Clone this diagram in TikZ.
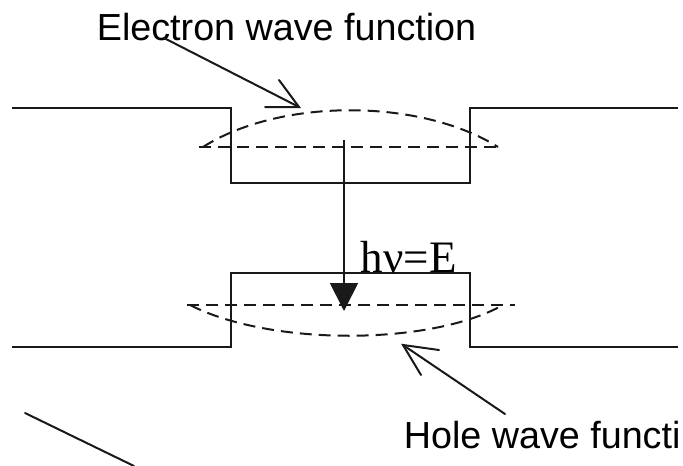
\documentclass[tikz,border=0pt]{standalone}
\usepackage{fontspec}
\setmainfont{Liberation Sans}
\newfontfamily\labelserif{Liberation Serif}
\usetikzlibrary{arrows.meta}
\tikzset{
  wavelabel/.style={anchor=base west,inner sep=0pt,text=black,font=\fontsize{37.7}{40}\selectfont},
  wave/.style={line width=2pt,dash pattern=on 12pt off 7pt},
  barb/.style={line width=2pt,line cap=round}
}
\begin{document}
\begin{tikzpicture}[x=1pt,y=-1pt,line width=1.8pt,color=black!90]
\useasboundingbox (0,0) rectangle (683,466);
\path[draw,line join=miter] (12,108) -- (231,108) -- (231,183) -- (470,183) -- (470,108) -- (678,108);
\path[draw,line join=miter] (12,347) -- (231,347) -- (231,273) -- (470,273) -- (470,347) -- (678,347);

\node[wavelabel] (elabel) at (96,40.5) {Electron wave function};
\node[wavelabel] (hlabel) at (403,448) {Hole wave functi};
\node[anchor=base west,inner sep=0pt,text=black,font=\labelserif\fontsize{45}{47}\selectfont] (photon) at (360,272) {hν=E};

\draw[wave] (199,147) -- (499,147);
\draw[wave] (203,147) .. controls (280,98) and (420,98) .. (498,147);
\draw[wave] (187,305) -- (515,305);
\draw[wave] (190,305) .. controls (270,346) and (430,346) .. (503,305);

\coordinate (etail) at (164,38);
\coordinate (etip) at (299,107);
\coordinate (ebarba) at (279,80);
\coordinate (ebarbb) at (265,107);
\draw[barb] (etail) -- (etip);
\draw[barb] (ebarba) -- (etip) -- (ebarbb);

\coordinate (htail) at (505,414);
\coordinate (htip) at (403,345);
\coordinate (hbarba) at (439,350);
\coordinate (hbarbb) at (421,375);
\draw[barb] (htail) -- (htip);
\draw[barb] (hbarba) -- (htip) -- (hbarbb);

\coordinate (ptop) at (344,140);
\coordinate (pbot) at (344,311);
\draw[-{Triangle[width=28pt,length=28pt]}] (ptop) -- (pbot);

\coordinate (stubtop) at (25,413);
\coordinate (stubbot) at (134,466);
\draw[barb] (stubtop) -- (stubbot);
\end{tikzpicture}
\end{document}
